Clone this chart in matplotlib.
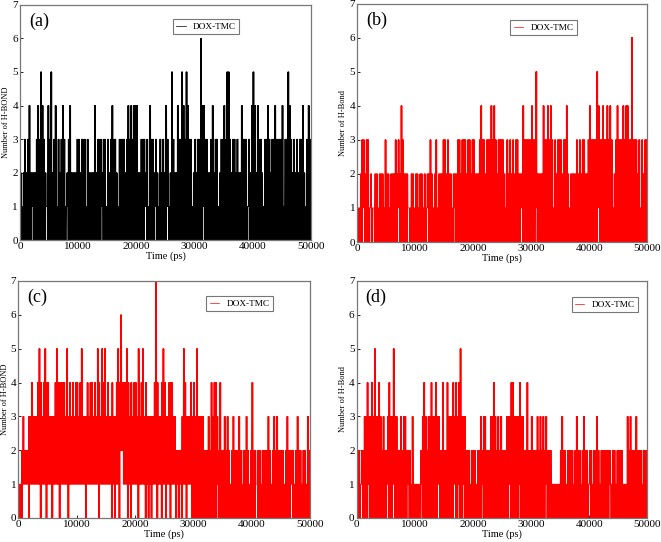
import matplotlib.pyplot as plt
import numpy as np

plt.rcParams['font.family'] = ['Liberation Serif', 'DejaVu Serif']

# H-bond counts, one digit per 250 ps window:
# hi = highest count in the window, lo = lowest count in the window
step = 250
flicker = 3  # lo/hi swings drawn inside each window

hi_a = "".join(["2123234222", "2343543214", "3523413234", "3123422223", "3233313222",
                "2423332331", "3234332133", "3323434344", "4223332314", "3323213232",
                "4312532243", "3543543312", "3233644332", "2342331233", "4355323323",
                "2243331324", "5424332133", "4323343333", "4133543232", "3233421343"])
lo_a = "".join(["0000000010", "0000000010", "0000000000", "0010000000", "0000000000",
                "0000001000", "0000000000", "0000000000", "0000001000", "0001000000",
                "0100000000", "0000000000", "0000001000", "0000000000", "0000000000",
                "0000000100", "0000000000", "0000000000", "0000000000", "0000000000"])

hi_b = "".join(["1123323312", "1122122213", "2212223232", "4322211221", "2212212122",
                "3212312223", "3232212223", "3233323323", "3222343323", "3343432333",
                "3213232323", "3222433333", "4335222243", "3434313233", "3233421222",
                "2323233223", "4333354334", "3343431234", "3334344336", "3332313233"])
lo_b = "".join(["0000100001", "0100000000", "0000000010", "0000010000", "0000000010",
                "0000000000", "0000000100", "0000000000", "0000000000", "0000000000",
                "0000000000", "0001000000", "0001000000", "0000000000", "0000000000",
                "0000000000", "0000001000", "0000000000", "0000000000", "0000000000"])

hi_c = "".join(["1123222334", "3334543454", "4333345444", "4435343434", "4345333434",
                "4343543545", "3433433454", "6444543434", "4353453433", "3334743345",
                "4334443322", "2235433343", "4353333222", "3243443242", "2323212322",
                "2321223212", "4221221222", "2321232322", "2212322221", "2322122132"])
lo_c = "".join(["0001111011", "1111101110", "1110111101", "1111011111", "1111110111",
                "1111101111", "1111010110", "2211101011", "1101111010", "1011101101",
                "1011011101", "0101101110", "0000000000", "0000001000", "0000000000",
                "0000000000", "0001000000", "0000000000", "0000000100", "0000000000"])

hi_d = "".join(["1212233433", "4353343232", "2343353322", "3233222131", "1111234323",
                "3433433224", "2243334343", "4533322212", "2212232332", "2233432323",
                "2223334433", "3343322422", "3222323232", "3222111111", "2322122221",
                "2322123221", "2212232122", "2222212212", "2221113232", "2232221222"])
lo_d = "".join(["0001000010", "0000000000", "0100010000", "0000010000", "0000100000",
                "0000001000", "0000000100", "1001000000", "0000001000", "0000000000",
                "0000010000", "0010000000", "0000000000", "1000000000", "0000000000",
                "0000000000", "1000000000", "0000100000", "0000000000", "0000000000"])

panels = ["(a)", "(b)", "(c)", "(d)"]
ylabels = ["Number of H-BOND", "Number of H-Bond", "Number of H-BOND", "Number of H-Bond"]
colors = ["black", "red", "red", "red"]


def series(hi, lo):
    hi = np.array([int(c) for c in hi])
    lo = np.array([int(c) for c in lo])
    n = len(hi)
    m = 2 * flicker
    t0 = np.repeat(np.arange(n) * step, m)
    tt = t0 + np.tile(np.arange(m), n) * step / m
    yy = np.empty(n * m)
    for j in range(m):
        yy[j::m] = lo if j % 2 == 0 else hi
    return tt, yy


fig = plt.figure(figsize=(6.61, 5.42), dpi=100)
# axes boxes in figure fractions
boxes = [[0.0303, 0.557, 0.440, 0.4345],
         [0.5405, 0.5535, 0.4387, 0.440],
         [0.0277, 0.0443, 0.4413, 0.4373],
         [0.5396, 0.0443, 0.4396, 0.4373]]
legend_pos = [(0.64, 0.905), (0.642, 0.899), (0.758, 0.903), (0.854, 0.90)]
data = [(hi_a, lo_a), (hi_b, lo_b), (hi_c, lo_c), (hi_d, lo_d)]

for i in range(4):
    ax = fig.add_axes(boxes[i])
    tt, yy = series(*data[i])
    ax.plot(tt, yy, color=colors[i], lw=0.5, label="DOX-TMC")
    ax.set_xlim(0, 50000)
    ax.set_ylim(0, 7)
    ax.set_xticks(np.arange(0, 50001, 10000))
    ax.set_yticks(np.arange(0, 8, 1))
    ax.tick_params(labelsize=8, length=2, width=0.6, direction="in", pad=1.5)
    for s in ax.spines.values():
        s.set_color("#777777")
        s.set_linewidth(0.9)
    ax.set_xlabel("Time (ps)", fontsize=7.5, labelpad=0)
    ax.set_ylabel(ylabels[i], fontsize=6, labelpad=1.5)
    ax.text(0.03, 0.93, panels[i], transform=ax.transAxes, fontsize=13,
            ha="left", va="center")
    leg = ax.legend(loc="center", bbox_to_anchor=legend_pos[i], fontsize=6.7,
                    handlelength=1.0, handletextpad=0.8, borderpad=0.35,
                    fancybox=False, framealpha=1, edgecolor="#777777")
    leg.get_frame().set_linewidth(0.8)

fig.savefig("out.png", dpi=100)
